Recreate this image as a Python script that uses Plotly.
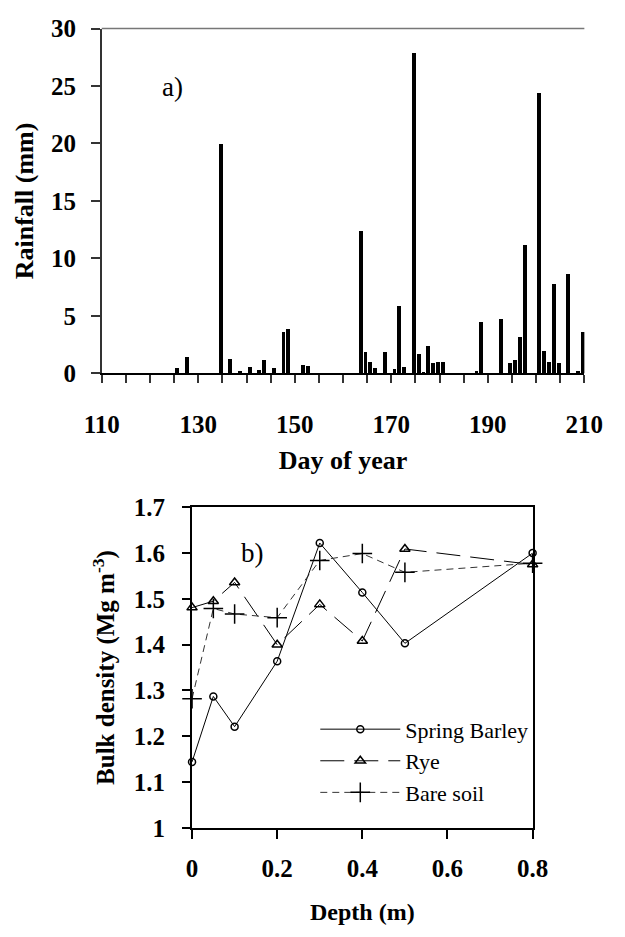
import plotly.graph_objects as go

# ---- panel a) data ----
days = [125, 127, 134, 136, 138, 140, 142, 143, 145, 147, 148, 151, 152,
        163, 164, 165, 166, 168, 170, 171, 172, 174, 175, 176, 177, 178, 179, 180,
        187, 188, 192, 194, 195, 196, 197, 200, 201, 202, 203, 204, 206, 208, 209]
rain = [0.5, 1.5, 20.0, 1.3, 0.2, 0.6, 0.3, 1.2, 0.5, 3.6, 3.9, 0.8, 0.65,
        12.4, 1.9, 1.0, 0.5, 1.9, 0.4, 5.9, 0.6, 27.9, 1.7, 0.15, 2.4, 0.9, 1.0, 1.0,
        0.2, 4.5, 4.8, 0.9, 1.2, 3.2, 11.2, 24.4, 1.95, 1.0, 7.8, 0.9, 8.7, 0.2, 3.6]
x_ticks_a = [110, 130, 150, 170, 190, 210]
y_ticks_a = [0, 5, 10, 15, 20, 25, 30]

# ---- panel b) data ----
depth = [0, 0.05, 0.1, 0.2, 0.3, 0.4, 0.5, 0.8]
barley = [1.144, 1.287, 1.221, 1.364, 1.622, 1.514, 1.403, 1.600]
rye = [1.481, 1.495, 1.536, 1.400, 1.488, 1.408, 1.609, 1.575]
bare = [1.282, 1.479, 1.467, 1.459, 1.584, 1.599, 1.558, 1.578]
x_ticks_b = [0, 0.2, 0.4, 0.6, 0.8]
y_ticks_b = [1, 1.1, 1.2, 1.3, 1.4, 1.5, 1.6, 1.7]

FONT = "Liberation Serif"
W, H = 625, 937

fig = go.Figure()

fig.add_trace(go.Bar(x=days, y=rain, width=0.8, offset=0.2,
                     marker=dict(color="black", line=dict(width=0)),
                     xaxis="x", yaxis="y", showlegend=False))

fig.add_trace(go.Scatter(x=depth, y=barley, name="Spring Barley", mode="lines+markers",
                         line=dict(color="black", width=1),
                         marker=dict(symbol="circle-open", size=7, color="black", line=dict(width=1.5)),
                         xaxis="x2", yaxis="y2", cliponaxis=False))
fig.add_trace(go.Scatter(x=depth, y=rye, name="Rye", mode="lines+markers",
                         line=dict(color="black", width=1, dash="24px,10px"),
                         marker=dict(symbol="triangle-up-open", size=9, color="black", line=dict(width=1.5)),
                         xaxis="x2", yaxis="y2", cliponaxis=False))
fig.add_trace(go.Scatter(x=depth, y=bare, name="Bare soil", mode="lines+markers",
                         line=dict(color="#333333", width=1, dash="7px,5px"),
                         marker=dict(symbol="cross-thin-open", size=14, color="black", line=dict(width=1.5, color="black")),
                         xaxis="x2", yaxis="y2", cliponaxis=False))

# pixel -> paper helpers
def px_x(p):
    return p / W

def px_y(p):
    return 1 - p / H

tickfont_a = dict(family=FONT, size=25, color="black", weight="bold")
tickfont_b = dict(family=FONT, size=25, color="black", weight="bold")

fig.update_layout(
    width=W, height=H,
    margin=dict(l=0, r=0, t=0, b=0),
    paper_bgcolor="white", plot_bgcolor="white",
    bargap=0,
    xaxis=dict(domain=[px_x(89), px_x(602)], range=[110, 210], anchor="y",
               tickvals=x_ticks_a, ticks="outside", ticklen=8, tickcolor="#333",
               tickwidth=1.5,
               minor=dict(dtick=5, tick0=110, ticks="outside", ticklen=8, tickcolor="#333", tickwidth=1.5),
               showline=True, linecolor="black", linewidth=1.5,
               showgrid=False, zeroline=False, tickfont=tickfont_a,
               ticklabelstandoff=20,
               title=dict(text="Day of year", font=dict(family=FONT, size=26, color="black", weight="bold"),
                          standoff=14)),
    yaxis=dict(domain=[px_y(371), px_y(16)], range=[0, 30], anchor="x",
               tickvals=y_ticks_a, ticks="outside", ticklen=9, tickcolor="#333", tickwidth=1.5,
               showline=True, linecolor="#333", linewidth=1.5,
               showgrid=False, zeroline=False, tickfont=tickfont_a,
               ticklabelstandoff=10,
               title=dict(text="Rainfall (mm)", font=dict(family=FONT, size=26, color="black", weight="bold"),
                          standoff=10)),
    xaxis2=dict(domain=[px_x(185), px_x(547)], range=[0, 0.8], anchor="y2",
                tickvals=x_ticks_b, ticks="outside", ticklen=9, tickcolor="black", tickwidth=2,
                showline=True, linecolor="black", linewidth=2, mirror=True,
                showgrid=False, zeroline=False, tickfont=tickfont_b,
                ticklabelstandoff=8,
                title=dict(text="Depth (m)", font=dict(family=FONT, size=24, color="black", weight="bold"),
                           standoff=22)),
    yaxis2=dict(domain=[px_y(839), px_y(509)], range=[1, 1.7], anchor="x2",
                tickvals=y_ticks_b, ticks="outside", ticklen=8, tickcolor="black", tickwidth=2,
                showline=True, linecolor="black", linewidth=2, mirror=True,
                showgrid=False, zeroline=False, tickfont=tickfont_b,
                ticklabelstandoff=12,
                title=dict(text="Bulk density (Mg m<sup>-3</sup>)",
                           font=dict(family=FONT, size=25, color="black", weight="bold"),
                           standoff=12)),
    # inner halves of the crossing ticks of panel b
    xaxis3=dict(overlaying="x2", anchor="y2", range=[0, 0.8], side="bottom",
                tickvals=x_ticks_b, ticks="inside", ticklen=9, tickcolor="black", tickwidth=2,
                showticklabels=False, showline=False, showgrid=False, zeroline=False),
    yaxis3=dict(overlaying="y2", anchor="x2", range=[1, 1.7], side="left",
                tickvals=y_ticks_b, ticks="inside", ticklen=8, tickcolor="black", tickwidth=2,
                showticklabels=False, showline=False, showgrid=False, zeroline=False),
    legend=dict(x=px_x(316), y=px_y(716), xanchor="left", yanchor="top",
                bgcolor="rgba(0,0,0,0)", itemwidth=80, tracegroupgap=0,
                font=dict(family=FONT, size=22, color="black")),
    shapes=[dict(type="line", xref="x domain", yref="y domain", x0=0, x1=1, y0=1, y1=1,
                 line=dict(color="#777", width=1.5))],
    annotations=[
        dict(text="a)", x=124.6, y=24.9, xref="x", yref="y", showarrow=False,
             font=dict(family=FONT, size=27, color="black")),
        dict(text="b)", x=0.141, y=1.60, xref="x2", yref="y2", showarrow=False,
             font=dict(family=FONT, size=27, color="black")),
    ],
)

fig.write_html("out.html")
